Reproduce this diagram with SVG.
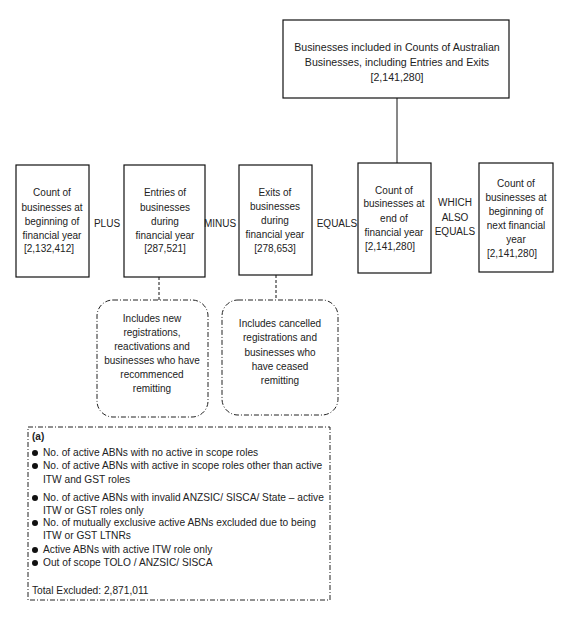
<svg xmlns="http://www.w3.org/2000/svg" width="566" height="618" viewBox="0 0 566 618">
<style>
text{font-family:"Liberation Sans",Arial,sans-serif;font-size:10px;fill:#222;}
.c{text-anchor:middle;}
.big{font-size:10.6px;}
.lg{font-size:10.2px;}
.box{fill:#fff;stroke:#111;stroke-width:1.2;}
.note{fill:#fff;stroke:#222;stroke-width:1;stroke-dasharray:5 2 1 2;}
.ln{stroke:#111;stroke-width:1;fill:none;}
.dl{stroke:#111;stroke-width:1;fill:none;stroke-dasharray:3 2;}
</style>
<rect width="566" height="618" fill="#fff"/>
<g id="connectors">
<line class="ln" x1="397" y1="98" x2="397" y2="163"/>
<line class="dl" x1="159" y1="277" x2="159" y2="300"/>
<line class="dl" x1="276" y1="275" x2="276" y2="300"/>
</g>
<g id="total">
<rect class="box" x="283" y="20" width="226" height="78"/>
<text class="c big" x="397" y="51">Businesses included in Counts of Australian</text>
<text class="c big" x="397" y="66">Businesses, including Entries and Exits</text>
<text class="c big" x="397" y="81">[2,141,280]</text>
</g>
<g id="begin">
<rect class="box" x="16" y="165" width="73" height="112"/>
<text class="c" x="52" y="196">Count of</text>
<text class="c" x="52" y="211">businesses at</text>
<text class="c" x="52" y="225">beginning of</text>
<text class="c" x="52" y="239">financial year</text>
<text class="c" x="49" y="252">[2,132,412]</text>
</g>
<text class="c" x="107" y="227">PLUS</text>
<g id="entries">
<rect class="box" x="124" y="165" width="81" height="112"/>
<text class="c" x="165" y="196">Entries of</text>
<text class="c" x="165" y="211">businesses</text>
<text class="c" x="165" y="225">during</text>
<text class="c" x="165" y="239">financial year</text>
<text class="c" x="165" y="252">[287,521]</text>
</g>
<text class="c" x="220" y="227">MINUS</text>
<g id="exits">
<rect class="box" x="239" y="165" width="73" height="110"/>
<text class="c" x="275" y="196">Exits of</text>
<text class="c" x="275" y="210">businesses</text>
<text class="c" x="275" y="224">during</text>
<text class="c" x="275" y="238">financial year</text>
<text class="c" x="275" y="252">[278,653]</text>
</g>
<text class="c" x="337" y="227">EQUALS</text>
<g id="end">
<rect class="box" x="358" y="163" width="73" height="110"/>
<text class="c" x="394" y="194">Count of</text>
<text class="c" x="394" y="207">businesses at</text>
<text class="c" x="394" y="222">end of</text>
<text class="c" x="394" y="236">financial year</text>
<text class="c" x="390" y="250">[2,141,280]</text>
</g>
<text class="c" x="455" y="206">WHICH</text>
<text class="c" x="455" y="221">ALSO</text>
<text class="c" x="455" y="235">EQUALS</text>
<g id="next">
<rect class="box" x="479" y="163" width="74" height="109"/>
<text class="c" x="516" y="187">Count of</text>
<text class="c" x="516" y="201">businesses at</text>
<text class="c" x="516" y="215">beginning of</text>
<text class="c" x="516" y="229">next financial</text>
<text class="c" x="516" y="243">year</text>
<text class="c" x="512" y="257">[2,141,280]</text>
</g>
<g id="note-entries">
<rect class="note" x="97" y="300" width="111" height="117" rx="16"/>
<text class="c" x="152" y="322">Includes new</text>
<text class="c" x="152" y="336">registrations,</text>
<text class="c" x="152" y="350">reactivations  and</text>
<text class="c" x="152" y="364">businesses who have</text>
<text class="c" x="152" y="378">recommenced</text>
<text class="c" x="152" y="392">remitting</text>
</g>
<g id="note-exits">
<rect class="note" x="222" y="300" width="116" height="115" rx="16"/>
<text class="c" x="280" y="327">Includes cancelled</text>
<text class="c" x="280" y="341">registrations and</text>
<text class="c" x="280" y="356">businesses who</text>
<text class="c" x="280" y="370">have ceased</text>
<text class="c" x="280" y="384">remitting</text>
</g>
<g id="legend">
<rect class="note" x="28" y="427" width="302" height="173"/>
<text x="32" y="440" style="font-weight:bold">(a)</text>
<circle cx="35" cy="453" r="3" fill="#111"/>
<text class="lg" x="43" y="456">No. of active ABNs with no active in scope roles</text>
<circle cx="35" cy="466" r="3" fill="#111"/>
<text class="lg" x="43" y="469">No. of active ABNs with active in scope roles other than active</text>
<text class="lg" x="43" y="483">ITW and GST roles</text>
<circle cx="35" cy="498" r="3" fill="#111"/>
<text class="lg" x="43" y="501">No. of active  ABNs with invalid ANZSIC/ SISCA/ State – active</text>
<text class="lg" x="43" y="514">ITW or GST roles only</text>
<circle cx="35" cy="523" r="3" fill="#111"/>
<text class="lg" x="43" y="526">No. of mutually exclusive active ABNs excluded due to being</text>
<text class="lg" x="43" y="539">ITW or GST  LTNRs</text>
<circle cx="35" cy="550" r="3" fill="#111"/>
<text class="lg" x="43" y="553">Active ABNs with active ITW role only</text>
<circle cx="35" cy="563" r="3" fill="#111"/>
<text class="lg" x="43" y="566">Out of scope  TOLO / ANZSIC/ SISCA</text>
<text class="lg" x="32" y="594">Total  Excluded: 2,871,011</text>
</g>
</svg>
